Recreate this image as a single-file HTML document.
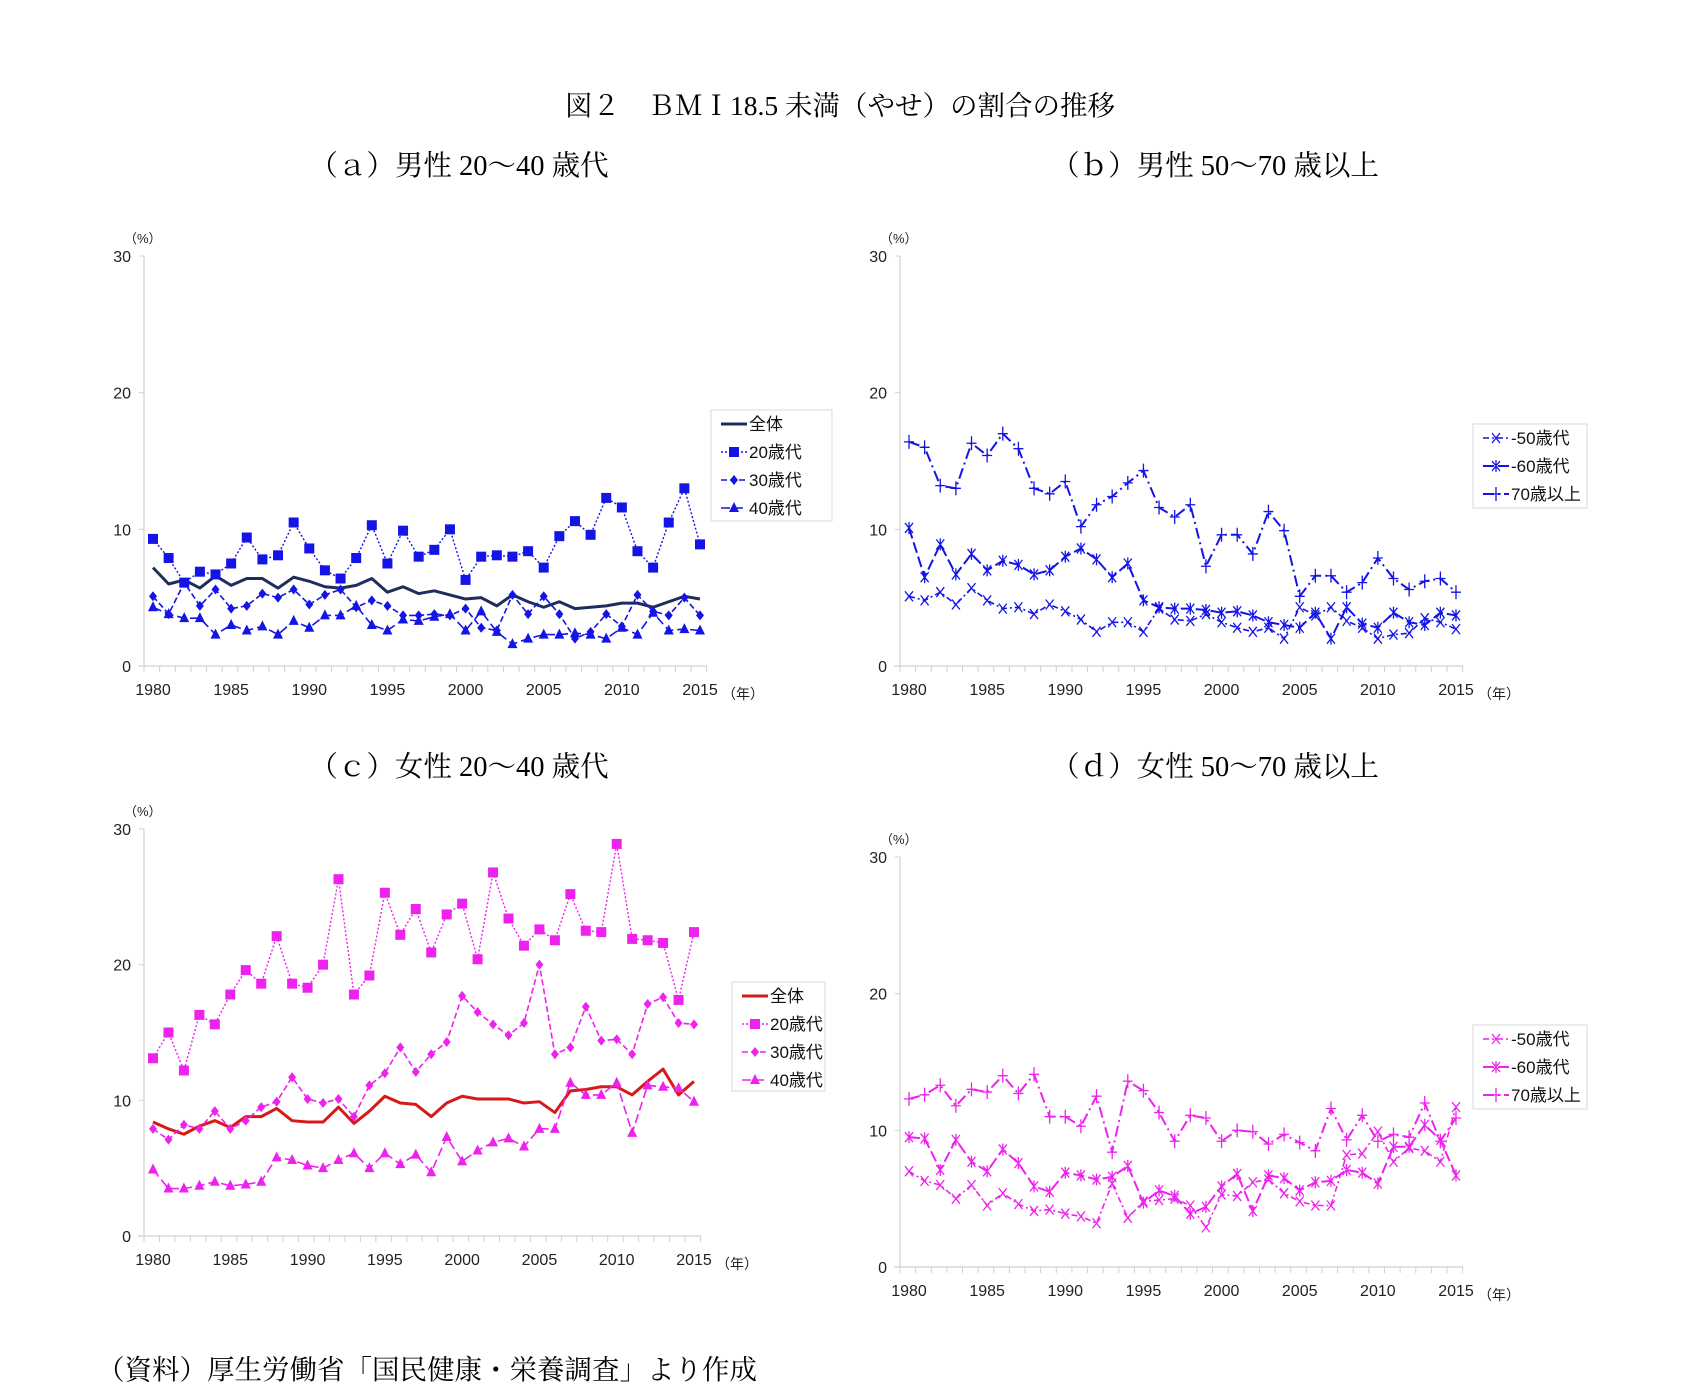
<!DOCTYPE html>
<html><head><meta charset="utf-8">
<style>
body{margin:0;background:#fff;}
svg{display:block;}
text{font-family:"Liberation Sans","Noto Sans CJK JP",sans-serif;}
.serif{font-family:"Liberation Serif","Noto Serif CJK SC",serif;}
</style></head>
<body>
<svg id="fig" width="1696" height="1389" viewBox="0 0 1696 1389" xmlns="http://www.w3.org/2000/svg">
<text class="serif" x="840" y="115" font-size="27.5" text-anchor="middle">図２　ＢＭＩ18.5 未満（やせ）の割合の推移</text>
<text class="serif" x="459" y="175" font-size="28.5" text-anchor="middle">（ａ）男性 20～40 歳代</text>
<text class="serif" x="1215" y="175" font-size="28.5" text-anchor="middle">（ｂ）男性 50～70 歳以上</text>
<text class="serif" x="459" y="776" font-size="28.5" text-anchor="middle">（ｃ）女性 20～40 歳代</text>
<text class="serif" x="1215" y="776" font-size="28.5" text-anchor="middle">（ｄ）女性 50～70 歳以上</text>
<text class="serif" x="97" y="1379" font-size="27.5">（資料）厚生労働省「国民健康・栄養調査」より作成</text>
</svg>
<script>
const years = [];
for (let y = 1980; y <= 2015; y++) years.push(y);
const yTicks = [0, 10, 20, 30];
const xTickLabels = [1980, 1985, 1990, 1995, 2000, 2005, 2010, 2015];

const aAll = [7.2,6.0,6.3,5.7,6.6,5.9,6.4,6.4,5.7,6.5,6.2,5.8,5.7,5.9,6.4,5.4,5.8,5.3,5.5,5.2,4.9,5.0,4.4,5.2,4.7,4.3,4.7,4.2,4.3,4.4,4.6,4.6,4.3,4.7,5.1,4.9];
const a20 = [9.3,7.9,6.1,6.9,6.7,7.5,9.4,7.8,8.1,10.5,8.6,7.0,6.4,7.9,10.3,7.5,9.9,8.0,8.5,10.0,6.3,8.0,8.1,8.0,8.4,7.2,9.5,10.6,9.6,12.3,11.6,8.4,7.2,10.5,13.0,8.9];
const a30 = [5.1,3.8,6.1,4.4,5.6,4.2,4.4,5.3,5.0,5.6,4.5,5.2,5.6,4.3,4.8,4.4,3.7,3.7,3.8,3.7,4.2,2.8,2.6,5.2,3.8,5.1,3.8,2.0,2.5,3.8,2.9,5.2,4.0,3.7,5.0,3.7];
const a40 = [4.3,3.8,3.5,3.5,2.3,3.0,2.6,2.9,2.3,3.3,2.8,3.7,3.7,4.4,3.0,2.6,3.4,3.3,3.6,3.8,2.6,4.0,2.5,1.6,2.0,2.3,2.3,2.4,2.3,2.0,2.8,2.3,3.9,2.6,2.7,2.6];

const b50 = [5.1,4.8,5.4,4.5,5.7,4.8,4.2,4.3,3.8,4.5,4.0,3.4,2.5,3.2,3.2,2.5,4.2,3.4,3.3,3.8,3.2,2.8,2.5,2.8,2.0,4.3,3.7,4.3,3.3,2.8,2.0,2.3,2.4,3.5,3.2,2.7];
const b60 = [10.1,6.5,8.9,6.7,8.2,7.0,7.7,7.4,6.7,7.0,8.0,8.6,7.8,6.5,7.5,4.8,4.3,4.2,4.2,4.1,3.9,4.0,3.7,3.2,3.0,2.8,3.9,2.0,4.3,3.1,2.8,3.9,3.2,3.0,3.9,3.7];
const b70 = [16.4,16.0,13.2,13.0,16.3,15.4,17.0,15.9,13.0,12.6,13.5,10.2,11.8,12.4,13.4,14.3,11.6,10.9,11.8,7.3,9.6,9.6,8.2,11.3,9.9,5.1,6.6,6.6,5.4,6.1,7.9,6.4,5.6,6.2,6.4,5.4];

const cAll = [8.4,7.9,7.5,8.1,8.5,8.0,8.8,8.8,9.4,8.5,8.4,8.4,9.5,8.3,9.2,10.3,9.8,9.7,8.8,9.8,10.3,10.1,10.1,10.1,9.8,9.9,9.1,10.7,10.8,11.0,11.0,10.4,11.4,12.3,10.4,11.4];
const c20 = [13.1,15.0,12.2,16.3,15.6,17.8,19.6,18.6,22.1,18.6,18.3,20.0,26.3,17.8,19.2,25.3,22.2,24.1,20.9,23.7,24.5,20.4,26.8,23.4,21.4,22.6,21.8,25.2,22.5,22.4,28.9,21.9,21.8,21.6,17.4,22.4];
const c30 = [7.9,7.1,8.2,7.9,9.2,7.9,8.5,9.5,9.9,11.7,10.1,9.8,10.1,8.8,11.1,12.0,13.9,12.1,13.4,14.3,17.7,16.5,15.6,14.8,15.7,20.0,13.4,13.9,16.9,14.4,14.5,13.4,17.1,17.6,15.7,15.6];
const c40 = [4.9,3.5,3.5,3.7,4.0,3.7,3.8,4.0,5.8,5.6,5.2,5.0,5.6,6.1,5.0,6.1,5.3,6.0,4.7,7.3,5.5,6.3,6.9,7.2,6.6,7.9,7.9,11.3,10.4,10.4,11.3,7.6,11.1,11.0,10.9,9.9];

const d50 = [7.0,6.3,6.0,5.0,6.0,4.5,5.4,4.6,4.1,4.2,3.9,3.7,3.2,6.1,3.6,4.8,4.9,5.0,4.5,2.9,5.3,5.2,6.2,6.4,5.4,4.8,4.5,4.5,8.2,8.3,9.9,7.7,8.7,8.5,7.7,11.7];
const d60 = [9.5,9.4,7.1,9.3,7.7,7.0,8.6,7.6,5.9,5.5,6.9,6.7,6.4,6.6,7.4,4.7,5.6,5.2,3.9,4.4,5.9,6.8,4.1,6.7,6.5,5.6,6.2,6.3,7.1,6.9,6.1,8.8,8.8,10.4,9.3,6.7];
const d70 = [12.3,12.6,13.3,11.8,13.0,12.8,14.0,12.7,14.1,11.0,11.0,10.3,12.5,8.4,13.6,12.9,11.3,9.2,11.1,10.9,9.2,10.0,9.9,9.0,9.7,9.1,8.5,11.6,9.3,11.1,9.2,9.7,9.5,12.0,9.2,10.9];

const NS = "http://www.w3.org/2000/svg";
const svg = document.getElementById('fig');
function mk(tag, attrs, parent) {
  const e = document.createElementNS(NS, tag);
  for (const k in attrs) e.setAttribute(k, attrs[k]);
  (parent || svg).appendChild(e);
  return e;
}

function marker(g, type, cx, cy, color) {
  let e;
  const s = 5;
  if (type === 'square') e = mk('rect', {x: cx - s, y: cy - s, width: 2 * s, height: 2 * s, fill: color}, g);
  else if (type === 'diamond') e = mk('path', {d: `M${cx} ${cy - 5}L${cx + 4} ${cy}L${cx} ${cy + 5}L${cx - 4} ${cy}Z`, fill: color}, g);
  else if (type === 'triangle') e = mk('path', {d: `M${cx} ${cy - 6}L${cx + 5} ${cy + 4}L${cx - 5} ${cy + 4}Z`, fill: color}, g);
  else if (type === 'x') e = mk('path', {d: `M${cx - 4} ${cy - 5}L${cx + 4} ${cy + 5}M${cx + 4} ${cy - 5}L${cx - 4} ${cy + 5}`, stroke: color, 'stroke-width': 1.3, fill: 'none'}, g);
  else if (type === 'star') e = mk('path', {d: `M${cx - 4} ${cy - 5}L${cx + 4} ${cy + 5}M${cx + 4} ${cy - 5}L${cx - 4} ${cy + 5}M${cx} ${cy - 6}L${cx} ${cy + 6}`, stroke: color, 'stroke-width': 1.3, fill: 'none'}, g);
  else if (type === 'plus') e = mk('path', {d: `M${cx - 5} ${cy}L${cx + 5} ${cy}M${cx} ${cy - 7}L${cx} ${cy + 7}`, stroke: color, 'stroke-width': 1.3, fill: 'none'}, g);
  if (e) {
    
    
  }
}

function chart(id, box, series, legend) {
  const g = mk('g', {});
  
  
  const xs = v => box.x0 + (v - 1980) / 35 * (box.x1 - box.x0);
  const ys = v => box.y0 - v / 30 * (box.y0 - box.y30);
  const axis = box.ax;
  const yAx = mk('line', {x1: axis, y1: box.y30, x2: axis, y2: box.y0, stroke: '#d0d0d0', 'stroke-width': 1.2}, g);
  
  
  const xEnd = xs(2015) + (xs(1981) - xs(1980)) * 0.45;
  const xAx = mk('line', {x1: axis - 6, y1: box.y0, x2: xEnd, y2: box.y0, stroke: '#d0d0d0', 'stroke-width': 1.2}, g);
  
  
  yTicks.forEach(t => {
    mk('line', {x1: axis - 5, y1: ys(t), x2: axis, y2: ys(t), stroke: '#d0d0d0'}, g);
    const tl = mk('text', {x: axis - 13, y: ys(t) + 6, 'font-size': 16, 'text-anchor': 'end', fill: '#222'}, g);
    tl.textContent = t;
    
    
  });
  const step = xs(1981) - xs(1980);
  for (let i = 0; i <= 36; i++) {
    const x = axis + i * step;
    if (x > xEnd + 1) break;
    mk('line', {x1: x, y1: box.y0, x2: x, y2: box.y0 + 6, stroke: '#d0d0d0'}, g);
  }
  xTickLabels.forEach(t => {
    const tl = mk('text', {x: xs(t), y: box.y0 + 29, 'font-size': 16, 'text-anchor': 'middle', fill: '#222'}, g);
    tl.textContent = t;
    
    
  });
  const u = mk('text', {x: axis - 20, y: box.y30 - 13, 'font-size': 13, fill: '#222'}, g);
  u.textContent = '（%）';
  
  
  const yu = mk('text', {x: xs(2015) + 22, y: box.y0 + 33, 'font-size': 14, fill: '#222'}, g);
  yu.textContent = '（年）';
  
  

  series.forEach(s => {
    const sg = mk('g', {}, g);
    
    
    const pts = s.data.map((v, i) => xs(years[i]) + ',' + ys(v)).join(' ');
    const pl = mk('polyline', {points: pts, fill: 'none', stroke: s.color, 'stroke-width': s.w, 'stroke-dasharray': s.dash || 'none', 'stroke-linejoin': 'round'}, sg);
    
    
    if (s.marker) s.data.forEach((v, i) => marker(sg, s.marker, xs(years[i]), ys(v), s.mcolor || s.color));
  });

  const lg = mk('g', {}, g);
  
  
  mk('rect', {x: legend.x, y: legend.y, width: legend.w, height: legend.h, fill: '#fff', stroke: '#d8d8d8'}, lg);
  series.forEach((s, i) => {
    const cy = legend.y + 14 + i * legend.gap;
    const lx = legend.x + 10;
    const en = mk('g', {}, lg);
    
    
    mk('line', {x1: lx, y1: cy, x2: lx + 26, y2: cy, stroke: s.color, 'stroke-width': s.w, 'stroke-dasharray': s.dash || 'none'}, en);
    if (s.marker) marker(en, s.marker, lx + 13, cy, s.mcolor || s.color);
    const t = mk('text', {x: lx + 28, y: cy + 6, 'font-size': 17, fill: '#111'}, en);
    t.textContent = s.label;
  });
}

const BL = '#1414e6', NV = '#1f2d5c', MG = '#ee22ee', RD = '#d61a1a';
chart('a', {x0: 153, x1: 700, y0: 666, y30: 256, ax: 144},
  [{key: 'all', label: '全体', data: aAll, color: NV, w: 3},
   {key: '20s', label: '20歳代', data: a20, color: BL, w: 1.4, dash: '2,2', marker: 'square'},
   {key: '30s', label: '30歳代', data: a30, color: BL, w: 1.6, dash: '6,3', marker: 'diamond'},
   {key: '40s', label: '40歳代', data: a40, color: BL, w: 1.6, dash: '9,4', marker: 'triangle'}],
  {x: 711, y: 410, w: 121, h: 111, gap: 28});
chart('b', {x0: 909, x1: 1456, y0: 666, y30: 256, ax: 900},
  [{key: '50s', label: '-50歳代', data: b50, color: BL, w: 1.6, dash: '6,3,2,3', marker: 'x'},
   {key: '60s', label: '-60歳代', data: b60, color: BL, w: 2, dash: '11,4', marker: 'star'},
   {key: '70s', label: '70歳以上', data: b70, color: BL, w: 2, dash: '11,4,2,4', marker: 'plus'}],
  {x: 1473, y: 424, w: 114, h: 84, gap: 28});
chart('c', {x0: 153, x1: 694, y0: 1236, y30: 829, ax: 144},
  [{key: 'all', label: '全体', data: cAll, color: RD, w: 3},
   {key: '20s', label: '20歳代', data: c20, color: MG, w: 1.4, dash: '2,2', marker: 'square'},
   {key: '30s', label: '30歳代', data: c30, color: MG, w: 1.6, dash: '6,3', marker: 'diamond'},
   {key: '40s', label: '40歳代', data: c40, color: MG, w: 1.6, dash: '9,4', marker: 'triangle'}],
  {x: 732, y: 982, w: 93, h: 109, gap: 28});
chart('d', {x0: 909, x1: 1456, y0: 1267, y30: 857, ax: 900},
  [{key: '50s', label: '-50歳代', data: d50, color: MG, w: 1.6, dash: '6,3,2,3', marker: 'x'},
   {key: '60s', label: '-60歳代', data: d60, color: MG, w: 2, dash: '11,4', marker: 'star'},
   {key: '70s', label: '70歳以上', data: d70, color: MG, w: 2, dash: '11,4,2,4', marker: 'plus'}],
  {x: 1473, y: 1025, w: 114, h: 84, gap: 28});
</script>
</body></html>
